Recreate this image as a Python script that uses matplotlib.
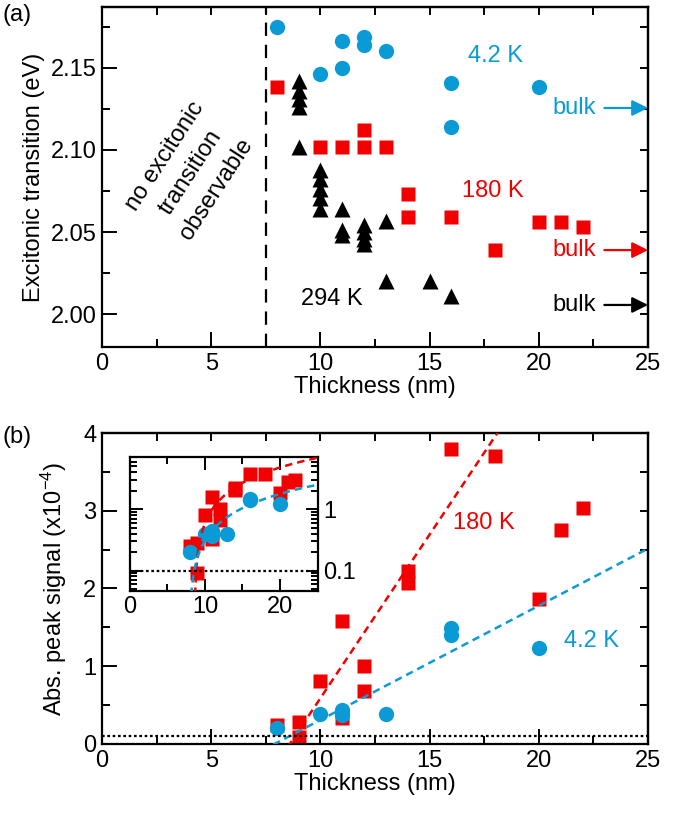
import numpy as np
import matplotlib
matplotlib.use("Agg")
import matplotlib.pyplot as plt
from matplotlib.ticker import MultipleLocator, FixedLocator, NullFormatter, NullLocator, LogLocator

plt.rcParams['font.family'] = ['Liberation Sans', 'DejaVu Sans']
plt.rcParams['font.size'] = 17
plt.rcParams['mathtext.fontset'] = 'custom'
plt.rcParams['mathtext.rm'] = 'Liberation Sans'
plt.rcParams['mathtext.it'] = 'Liberation Sans:italic'
plt.rcParams['axes.linewidth'] = 1.6

blue = "#0a9bd6"
red = "#f20000"
black = "#000000"

'''---Data (a): excitonic transition energy (eV) vs thickness (nm)---'''
x_42K = [8, 10, 11, 11, 12, 12, 13, 16, 16, 20]
e_42K = [2.175, 2.146, 2.166, 2.150, 2.169, 2.164, 2.160, 2.141, 2.114, 2.138]

x_180K = [8, 10, 11, 12, 12, 13, 14, 14, 16, 18, 20, 21, 22]
e_180K = [2.138, 2.102, 2.102, 2.102, 2.112, 2.102, 2.073, 2.059, 2.059, 2.039, 2.056, 2.056, 2.053]

x_294K = [9, 9, 9, 9, 9, 10, 10, 10, 10, 10, 11, 11, 11, 12, 12, 12, 12, 13, 13, 15, 16]
e_294K = [2.142, 2.136, 2.131, 2.126, 2.102, 2.088, 2.082, 2.076, 2.071, 2.064,
          2.064, 2.051, 2.048, 2.054, 2.050, 2.046, 2.043, 2.057, 2.020, 2.020, 2.011]

bulk_42K = 2.1255
bulk_180K = 2.039
bulk_294K = 2.0056
cutoff = 7.5  # no excitonic transition below this thickness

'''---Data (b): absorption peak signal (x1e-4) vs thickness (nm)---'''
xs_180K = [8, 9, 9, 10, 11, 11, 12, 12, 14, 14, 16, 18, 20, 21, 22]
s_180K = [0.25, 0.28, 0.09, 0.81, 1.58, 0.33, 1.00, 0.68, 2.22, 2.07, 3.80, 3.70, 1.87, 2.75, 3.04]

xs_42K = [8, 10, 11, 11, 13, 16, 16, 20]
s_42K = [0.20, 0.39, 0.44, 0.37, 0.39, 1.49, 1.40, 1.23]

# linear fits: signal = slope*(d - d0)
fit_180K = (0.421, 8.6)
fit_42K = (0.147, 7.9)
noise = 0.1

'''---Helpers---'''

def style(ax, xmaj, xmin, ymaj, ymin):
    #long ticks on left/bottom, short ones on top/right
    ax.tick_params(which='both', direction='in', top=False, right=False, width=1.4)
    ax.tick_params(which='major', length=11, pad=4)
    ax.tick_params(which='minor', length=6)
    ax.xaxis.set_major_locator(MultipleLocator(xmaj))
    ax.xaxis.set_minor_locator(MultipleLocator(xmin))
    ax.yaxis.set_major_locator(MultipleLocator(ymaj))
    ax.yaxis.set_minor_locator(MultipleLocator(ymin))

    top = ax.secondary_xaxis('top')
    top.xaxis.set_major_locator(MultipleLocator(xmin))
    top.xaxis.set_minor_locator(NullLocator())
    top.tick_params(direction='in', length=6, width=1.4, labeltop=False)

    right = ax.secondary_yaxis('right')
    right.yaxis.set_major_locator(MultipleLocator(ymin))
    right.yaxis.set_minor_locator(NullLocator())
    right.tick_params(direction='in', length=6, width=1.4, labelright=False)

def fitline(fit, x):
    return fit[0]*(x - fit[1])

'''---Plot---'''

fig = plt.figure(figsize=(6.8, 8.19), dpi=100)

# panel (a)
ax1 = fig.add_axes([0.150, 0.5763, 0.803, 0.4152])
ax1.plot(x_42K, e_42K, 'o', color=blue, ms=11, mec='none')
ax1.plot(x_180K, e_180K, 's', color=red, ms=9.6, mec='none')
ax1.plot(x_294K, e_294K, '^', color=black, ms=11, mec='none')
ax1.axvline(cutoff, color=black, lw=1.6, dashes=(6, 4))
ax1.set_xlim(0, 25)
ax1.set_ylim(1.98, 2.187)
style(ax1, 5, 2.5, 0.05, 0.025)
ax1.set_yticks([2.00, 2.05, 2.10, 2.15])
ax1.set_yticklabels(["2.00", "2.05", "2.10", "2.15"])
ax1.set_xlabel("Thickness (nm)", labelpad=1)
ax1.set_ylabel("Excitonic transition (eV)", labelpad=4)

ax1.text(4.05, 2.086, "no excitonic\ntransition\nobservable", rotation=57,
         ha='center', va='center', rotation_mode='anchor', linespacing=1.5)
ax1.text(18.0, 2.157, "4.2 K", color=blue, ha='center', va='center')
ax1.text(17.9, 2.075, "180 K", color=red, ha='center', va='center')
ax1.text(10.5, 2.009, "294 K", color=black, ha='center', va='center')
for yb, c in [(bulk_42K, blue), (bulk_180K, red), (bulk_294K, black)]:
    ax1.text(22.6, yb, "bulk", color=c, ha='right', va='center')
    ax1.annotate("", xy=(25, yb), xytext=(23.0, yb),
                 arrowprops=dict(arrowstyle='-|>', color=c, lw=1.6,
                                 mutation_scale=24, shrinkA=0, shrinkB=0))
fig.text(0.003, 0.982, "(a)", ha='left', va='center')

# panel (b)
ax2 = fig.add_axes([0.150, 0.0916, 0.803, 0.3797])
d = np.linspace(0, 25, 200)
ax2.plot(xs_180K, s_180K, 's', color=red, ms=9.6, mec='none', zorder=2)
ax2.plot(xs_42K, s_42K, 'o', color=blue, ms=11, mec='none', zorder=2)
ax2.plot(d, fitline(fit_180K, d), color=red, lw=1.8, dashes=(3, 2), zorder=3)
ax2.plot(d, fitline(fit_42K, d), color=blue, lw=1.8, dashes=(3, 2), zorder=3)
ax2.axhline(noise, color=black, lw=1.6, dashes=(1.2, 1.2), zorder=3)
ax2.set_xlim(0, 25)
ax2.set_ylim(0, 4)
style(ax2, 5, 2.5, 1, 0.5)
ax2.set_xlabel("Thickness (nm)", labelpad=1)
ax2.set_ylabel(r"Abs. peak signal (x10$^{\mathregular{-4}}$)", labelpad=10)
ax2.text(17.5, 2.84, "180 K", color=red, ha='center', va='center')
ax2.text(22.4, 1.32, "4.2 K", color=blue, ha='center', va='center')
fig.text(0.003, 0.467, "(b)", ha='left', va='center')

# inset of (b), log scale
ax3 = fig.add_axes([0.191, 0.2788, 0.276, 0.1636])
dl = np.linspace(7, 25, 400)
ax3.plot(xs_180K, s_180K, 's', color=red, ms=9.6, mec='none', zorder=2)
ax3.plot(xs_42K, s_42K, 'o', color=blue, ms=11, mec='none', zorder=2)
ax3.plot(dl, fitline(fit_180K, dl), color=red, lw=1.8, dashes=(3, 2), zorder=3)
ax3.plot(dl, fitline(fit_42K, dl), color=blue, lw=1.8, dashes=(3, 2), zorder=3)
ax3.axhline(noise, color=black, lw=1.6, dashes=(1.2, 1.2), zorder=3)
ax3.set_yscale('log')
ax3.set_xlim(0, 25)
ax3.set_ylim(0.047, 7.2)
ax3.tick_params(which='both', direction='in', top=True, right=True, width=1.4)
ax3.tick_params(which='major', length=9, pad=4)
ax3.tick_params(which='minor', length=5)
ax3.xaxis.set_major_locator(MultipleLocator(10))
ax3.xaxis.set_minor_locator(MultipleLocator(5))
ax3.yaxis.set_major_locator(FixedLocator([0.1, 1]))
ax3.yaxis.set_minor_locator(LogLocator(base=10, subs=np.arange(2, 10)))
ax3.yaxis.set_minor_formatter(NullFormatter())
ax3.set_yticklabels(["0.1", "1"])
ax3.tick_params(axis='y', which='both', labelleft=False, labelright=True)

plt.savefig("out.png", dpi=100)
